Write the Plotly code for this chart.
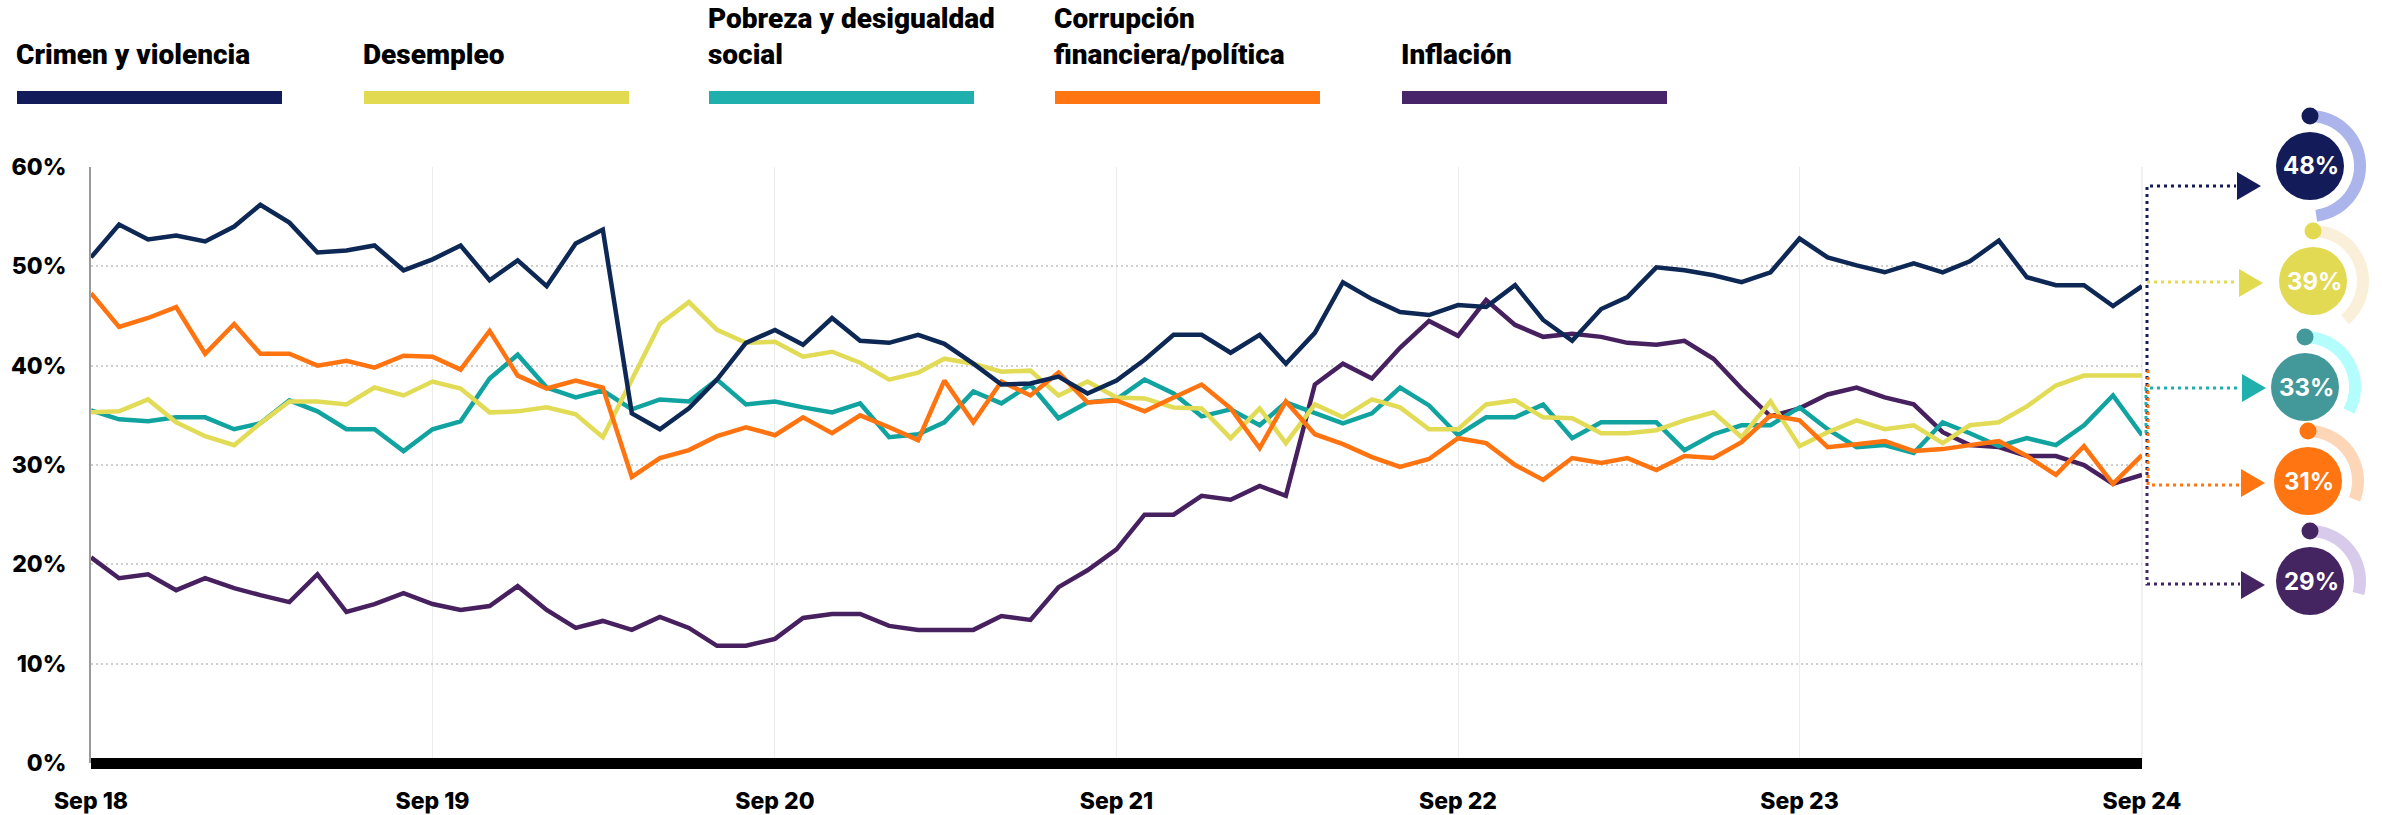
import math
import pandas as pd
import plotly.graph_objects as go

# ---------------- data ----------------
months = pd.date_range("2018-09-01", "2024-09-01", freq="MS")

crimen = [50.9, 54.2, 52.7, 53.1, 52.5, 54.0, 56.2, 54.4, 51.4, 51.6, 52.1, 49.6,
          50.7, 52.1, 48.6, 50.6, 48.0, 52.3, 53.7, 35.2, 33.6, 35.7, 38.6, 42.3,
          43.6, 42.1, 44.8, 42.5, 42.3, 43.1, 42.2, 40.2, 38.1, 38.2, 38.9, 37.2,
          38.5, 40.6, 43.1, 43.1, 41.3, 43.1, 40.2, 43.3, 48.4, 46.7, 45.4, 45.1,
          46.1, 45.9, 48.1, 44.6, 42.5, 45.7, 46.9, 49.9, 49.6, 49.1, 48.4, 49.4,
          52.8, 50.9, 50.1, 49.4, 50.3, 49.4, 50.5, 52.6, 48.9, 48.1, 48.1, 46.0,
          48.0]
desempleo = [35.3, 35.4, 36.6, 34.3, 32.9, 32.0, 34.2, 36.4, 36.4, 36.1, 37.8, 37.0,
             38.4, 37.7, 35.3, 35.4, 35.8, 35.1, 32.8, 38.5, 44.2, 46.4, 43.6, 42.3,
             42.4, 40.9, 41.4, 40.3, 38.6, 39.3, 40.7, 40.2, 39.4, 39.5, 37.0, 38.4,
             36.8, 36.7, 35.8, 35.7, 32.7, 35.7, 32.2, 36.1, 34.8, 36.6, 35.8, 33.6,
             33.6, 36.1, 36.5, 34.8, 34.7, 33.2, 33.2, 33.5, 34.5, 35.3, 32.8, 36.4,
             31.9, 33.3, 34.5, 33.6, 34.0, 32.2, 34.0, 34.3, 35.9, 38.0, 39.0, 39.0,
             39.0]
pobreza = [35.5, 34.6, 34.4, 34.8, 34.8, 33.6, 34.2, 36.5, 35.4, 33.6, 33.6, 31.4,
           33.6, 34.4, 38.7, 41.1, 37.8, 36.8, 37.5, 35.6, 36.6, 36.4, 38.6, 36.1,
           36.4, 35.8, 35.3, 36.2, 32.8, 33.1, 34.3, 37.4, 36.2, 38.1, 34.7, 36.3,
           36.6, 38.6, 37.2, 34.9, 35.6, 34.0, 36.3, 35.2, 34.2, 35.2, 37.8, 36.0,
           33.0, 34.8, 34.8, 36.1, 32.7, 34.3, 34.3, 34.3, 31.5, 33.1, 34.0, 34.0,
           35.8, 33.6, 31.8, 32.0, 31.2, 34.3, 33.2, 31.9, 32.7, 32.0, 34.0, 37.0,
           33.0]
corrupcion = [47.3, 43.9, 44.8, 45.9, 41.2, 44.2, 41.2, 41.2, 40.0, 40.5, 39.8, 41.0,
              40.9, 39.6, 43.5, 39.0, 37.7, 38.5, 37.8, 28.8, 30.7, 31.5, 32.9, 33.8,
              33.0, 34.8, 33.2, 35.0, 33.8, 32.5, 38.5, 34.3, 38.4, 37.0, 39.3, 36.3,
              36.5, 35.4, 36.8, 38.1, 35.7, 31.7, 36.4, 33.1, 32.1, 30.8, 29.8, 30.6,
              32.7, 32.2, 30.0, 28.5, 30.7, 30.2, 30.7, 29.5, 30.9, 30.7, 32.3, 35.0,
              34.5, 31.8, 32.1, 32.4, 31.4, 31.6, 32.0, 32.4, 30.9, 29.0, 31.9, 28.1,
              31.0]
inflacion = [20.7, 18.6, 19.0, 17.4, 18.6, 17.6, 16.9, 16.2, 19.0, 15.2, 16.0, 17.1,
             16.0, 15.4, 15.8, 17.8, 15.4, 13.6, 14.3, 13.4, 14.7, 13.6, 11.8, 11.8,
             12.5, 14.6, 15.0, 15.0, 13.8, 13.4, 13.4, 13.4, 14.8, 14.4, 17.7, 19.4,
             21.5, 25.0, 25.0, 26.9, 26.5, 27.9, 26.9, 38.1, 40.2, 38.7, 41.8, 44.5,
             43.0, 46.6, 44.1, 42.9, 43.2, 42.9, 42.3, 42.1, 42.5, 40.7, 37.7, 34.9,
             35.7, 37.1, 37.8, 36.8, 36.1, 33.3, 32.0, 31.8, 30.9, 30.9, 30.0, 28.1,
             29.0]

names = ["Crimen y violencia", "Desempleo", "Pobreza y desigualdad<br>social",
         "Corrupción<br>financiera/política", "Inflación"]
values = [crimen, desempleo, pobreza, corrupcion, inflacion]
y_ticks = [0, 10, 20, 30, 40, 50, 60]
y_ticktext = ["0%", "10%", "20%", "30%", "40%", "50%", "60%"]
x_ticks = pd.date_range("2018-09-01", "2024-09-01", freq="12MS")

# ---------------- styles ----------------
line_colors = ["#0d2854", "#e2db55", "#10a3a0", "#ff7410", "#47205f"]
legend_colors = ["#131c5a", "#e2da50", "#1fb0ae", "#ff7512", "#48256a"]
circle_colors = ["#131c59", "#e2da52", "#43999a", "#ff7511", "#452462"]
ring_colors = ["#abb5ec", "#faefd9", "#b3fdfd", "#fdd6b8", "#d8caea"]
arrow_colors = ["#131c59", "#e2da50", "#1fb0ae", "#ff7511", "#452462"]

W, H = 2382, 815
L, R, T, B = 91, 2142, 167, 763

def px(x):
    return (x - L) / (R - L)

def py(y):
    return (B - y) / (B - T)

TICK_FONT = dict(family="Inter, Roboto, Arial", size=23, color="#000000", weight=800)
LEG_FONT = dict(family="Roboto, Arial", size=28, color="#000000", weight=900)

fig = go.Figure()

draw_order = [4, 2, 1, 3, 0]
for i in draw_order:
    fig.add_trace(go.Scatter(
        x=months, y=values[i], mode="lines", name=names[i].replace("<br>", " "),
        line=dict(color=line_colors[i], width=4.5, shape="linear"),
        showlegend=False, hoverinfo="skip"))

shapes = []
annotations = []

# baseline bar
shapes.append(dict(type="line", xref="x", yref="paper", x0=months[0], x1=months[-1],
                   y0=py(763.5), y1=py(763.5), line=dict(color="#000000", width=11),
                   layer="above"))
# right border line
shapes.append(dict(type="line", xref="paper", yref="paper", x0=1, x1=1, y0=0, y1=1,
                   line=dict(color="#e3e3e3", width=1), layer="below"))

# legend
leg_x = [16, 363, 708, 1054, 1401]
for i in range(5):
    annotations.append(dict(text=names[i], xref="paper", yref="paper",
                            x=px(leg_x[i] - 1), y=py(72), xanchor="left", yanchor="bottom",
                            align="left", showarrow=False, font=LEG_FONT, borderpad=0))
    shapes.append(dict(type="rect", xref="paper", yref="paper",
                       x0=px(leg_x[i] + 1), x1=px(leg_x[i] + 266), y0=py(91), y1=py(104),
                       fillcolor=legend_colors[i], line=dict(width=0)))

# right panel: connectors, arrows, rings, circles
centers = [(2310, 166), (2313, 281), (2305, 387), (2308, 481), (2310, 581)]
arrow_y = [186, 283, 388, 483, 585]
arrow_x0 = [2237, 2239, 2242, 2241, 2241]
connectors = [
    [(2147, 470), (2147, 186), (2236, 186)],
    [(2147, 282), (2238, 282)],
    [(2146, 433), (2146, 388), (2240, 388)],
    [(2148, 370), (2148, 485), (2240, 485)],
    [(2147, 472), (2147, 584), (2240, 584)],
]

def path_of(pts, close=False):
    s = "M " + " L ".join(f"{px(x):.5f},{py(y):.5f}" for x, y in pts)
    return s + (" Z" if close else "")

for i in [0, 4, 3, 2, 1]:
    shapes.append(dict(type="path", xref="paper", yref="paper", path=path_of(connectors[i]),
                       line=dict(color=arrow_colors[i], width=3, dash="3px,4px")))

for i in range(5):
    ay = arrow_y[i]
    ax = arrow_x0[i]
    shapes.append(dict(type="path", xref="paper", yref="paper",
                       path=path_of([(ax, ay - 14), (ax + 24, ay), (ax, ay + 14)], close=True),
                       fillcolor=arrow_colors[i], line=dict(width=0)))
    cx, cy = centers[i]
    pct = values[i][-1]
    ang = pct / 100 * 360
    n = 80
    pts = []
    for k in range(n + 1):
        a = math.radians(ang * k / n)
        pts.append((cx + 50 * math.sin(a), cy - 50 * math.cos(a)))
    shapes.append(dict(type="path", xref="paper", yref="paper", path=path_of(pts),
                       line=dict(color=ring_colors[i], width=12)))
    # start dot
    shapes.append(dict(type="circle", xref="paper", yref="paper",
                       x0=px(cx - 8.5), x1=px(cx + 8.5), y0=py(cy - 50 + 8.5), y1=py(cy - 50 - 8.5),
                       fillcolor=circle_colors[i], line=dict(width=0)))
    shapes.append(dict(type="circle", xref="paper", yref="paper",
                       x0=px(cx - 34), x1=px(cx + 34), y0=py(cy + 34), y1=py(cy - 34),
                       fillcolor=circle_colors[i], line=dict(width=0)))
    annotations.append(dict(text=f"{round(pct)}%", xref="paper", yref="paper",
                            x=px(cx + 1), y=py(cy), xanchor="center", yanchor="middle",
                            showarrow=False,
                            font=dict(family="Inter, Roboto, Arial", size=24, color="#ffffff", weight=700)))

fig.update_layout(
    width=W, height=H,
    margin=dict(l=L, r=W - R, t=T, b=H - B, pad=0, autoexpand=False),
    paper_bgcolor="#ffffff", plot_bgcolor="#ffffff",
    shapes=shapes, annotations=annotations,
    showlegend=False,
    xaxis=dict(range=[months[0], months[-1]], tickvals=list(x_ticks), tickformat="%b %y",
               showgrid=True, gridcolor="#ececec", gridwidth=1, zeroline=False,
               showline=False, ticks="", tickfont=TICK_FONT, ticklabelstandoff=22,
               automargin=False, fixedrange=True),
    yaxis=dict(range=[0, 60], tickvals=y_ticks, ticktext=y_ticktext,
               showgrid=True, gridcolor="#cfcfcf", gridwidth=2, griddash="2px,3px",
               zeroline=False, showline=True, linecolor="#9a9a9a", linewidth=2,
               ticks="", tickfont=TICK_FONT, ticklabelstandoff=18,
               automargin=False, fixedrange=True),
)

fig.write_html("out.html", config={"displayModeBar": False},
               post_script="document.body.style.margin='0px';")
